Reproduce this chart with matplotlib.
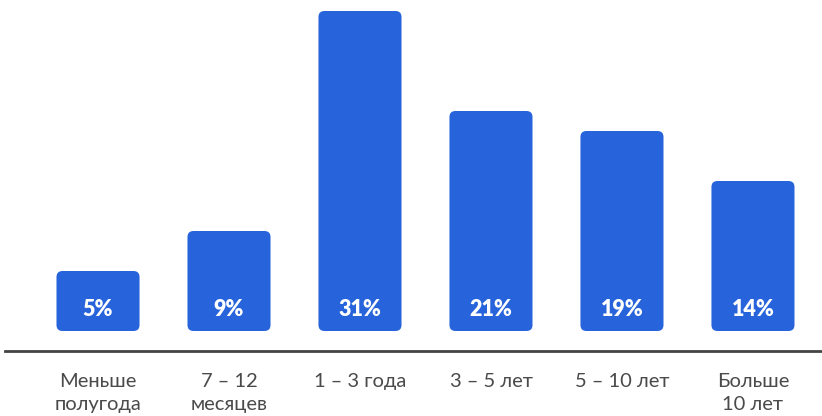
import matplotlib
matplotlib.use("Agg")
import matplotlib.pyplot as plt
from matplotlib.patches import FancyBboxPatch

plt.rcParams['font.family'] = ['Lato', 'DejaVu Sans']

categories = ['Меньше\nполугода', '7 – 12\nмесяцев', '1 – 3 года', '3 – 5 лет', '5 – 10 лет', 'Больше\n10 лет']
values = [5, 9, 31, 21, 19, 14]
labels = ['5%', '9%', '31%', '21%', '19%', '14%']

bar_color = '#2764dc'
W, H = 822, 416
fig = plt.figure(figsize=(W / 100, H / 100), dpi=100)
ax = fig.add_axes([5 / W, 65 / H, 817 / W, 351 / H])
ax.set_xlim(-0.71, 5.527)
ax.set_ylim(-3, 32.1)

width = 0.634
base = -1.0
# px per unit: x 131, y 10
px_x = 131.0
px_y = 10.0
r = 6 / px_x
for i, v in enumerate(values):
    p = FancyBboxPatch((i - width / 2, base), width, v - base,
                       boxstyle=f"round,pad=0,rounding_size={r}",
                       mutation_aspect=px_x / px_y,
                       fc=bar_color, ec='none')
    ax.add_patch(p)
    ax.annotate(labels[i], (i, base), xytext=(0, 22), textcoords='offset pixels',
                ha='center', va='center', color='white', fontsize=15.5, fontweight='heavy')

ax.set_xticks(range(len(categories)))
ax.set_xticklabels(categories, fontsize=14.5, color='#4a4a4a', linespacing=1.38)
ax.tick_params(axis='x', length=0, pad=16)
ax.set_yticks([])
for s in ['top', 'right', 'left']:
    ax.spines[s].set_visible(False)
ax.spines['bottom'].set_color('#444444')
ax.spines['bottom'].set_linewidth(2)

fig.savefig('out.png', dpi=100)
